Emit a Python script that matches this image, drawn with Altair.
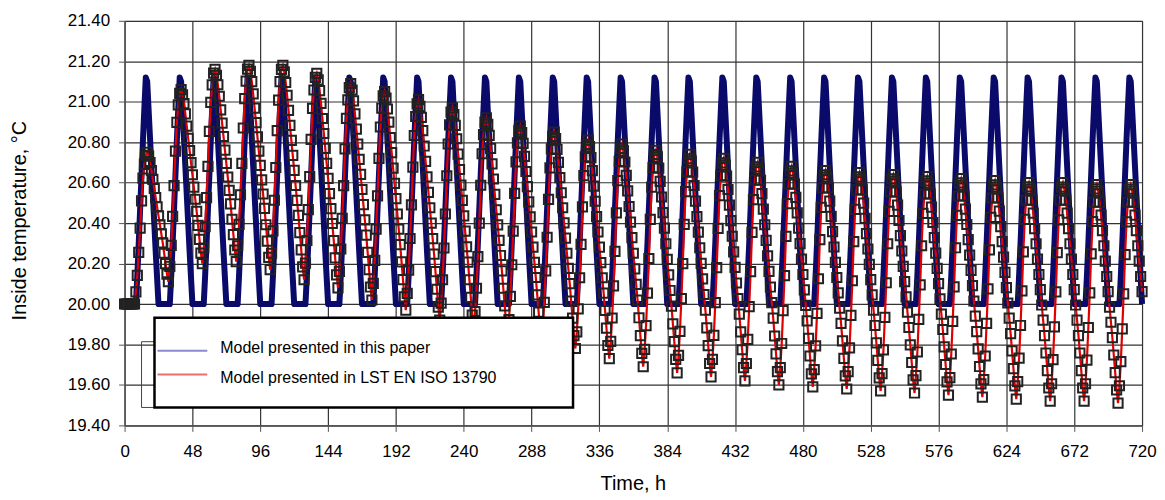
import altair as alt
import pandas as pd

# ---- data ----
x_ticks = [0, 48, 96, 144, 192, 240, 288, 336, 384, 432, 480, 528, 576, 624, 672, 720]
y_ticks = [19.40, 19.60, 19.80, 20.00, 20.20, 20.40, 20.60, 20.80, 21.00, 21.20, 21.40]

# Model presented in this paper: one daily profile (hours 0..23), repeats every day
blue_day = [20.00, 20.00, 20.00, 20.00, 20.00, 20.00, 20.00, 20.00, 20.00,
            20.14, 20.30, 20.47, 20.64, 20.81, 20.97, 21.12, 21.10,
            20.96, 20.82, 20.68, 20.54, 20.40, 20.26, 20.13]
blue_end = 20.00

# LST EN ISO 13790 model: daily peaks (hour 16 of day 1..30)
red_peaks = [20.75, 21.06, 21.16, 21.18, 21.18, 21.14, 21.09, 21.05, 21.01, 20.97,
             20.92, 20.88, 20.85, 20.81, 20.79, 20.76, 20.74, 20.72, 20.70, 20.68,
             20.66, 20.65, 20.64, 20.63, 20.62, 20.61, 20.60, 20.60, 20.59, 20.59]
# daily troughs (hour 7 of day 1..31)
red_troughs = [20.00, 20.11, 20.20, 20.21, 20.17, 20.12, 20.08, 20.02, 19.97, 19.92,
               19.88, 19.84, 19.81, 19.78, 19.73, 19.69, 19.66, 19.64, 19.62, 19.60,
               19.59, 19.58, 19.57, 19.56, 19.55, 19.54, 19.53, 19.52, 19.52, 19.51,
               19.51]
red_rise = [0.0, 0.08, 0.19, 0.34, 0.50, 0.68, 0.83, 0.92, 0.98, 1.0]
red_fall = [1.0, 0.97, 0.92, 0.86, 0.79, 0.72, 0.65, 0.58, 0.51, 0.44, 0.37, 0.30,
            0.22, 0.14, 0.06, 0.0]
red_start = 20.00

# ---- build table ----
rows = []
for t in range(0, 721):
    d, h = divmod(t, 24)
    b = blue_day[h] if t < 720 else blue_end
    if d == 0 and h < 7:
        r = red_start
    elif h < 7:
        p, lo = red_peaks[d - 1], red_troughs[d]
        r = lo + red_fall[h + 8] * (p - lo)
    elif h <= 16:
        lo, p = red_troughs[d], red_peaks[d]
        r = lo + red_rise[h - 7] * (p - lo)
    else:
        p, lo = red_peaks[d], red_troughs[d + 1]
        r = lo + red_fall[h - 16] * (p - lo)
    rows.append({"t": t, "blue": b, "red": round(r, 3)})
df = pd.DataFrame(rows)

FONT = "Liberation Sans"

xaxis = alt.Axis(values=x_ticks, title="Time, h", labelFontSize=17, labelFont=FONT,
                 labelColor="black", tickColor="#555", tickSize=6, domainColor="#555",
                 domainWidth=1.5, gridColor="#333333", gridWidth=1.2, gridOpacity=1,
                 labelPadding=12, titleFont=FONT, titleFontSize=20, titleFontWeight="normal",
                 titleColor="black", titleX=510, titleY=58, titleBaseline="middle",
                 titleAlign="center", labelFlush=False)
yaxis = alt.Axis(values=y_ticks, format=".2f", title="Inside temperature, °C",
                 labelFontSize=17, labelFont=FONT, labelColor="black", tickColor="#555",
                 tickSize=6, domainColor="#555", domainWidth=1.5, gridColor="#333333",
                 gridWidth=1.2, gridOpacity=1, labelPadding=9, titleFont=FONT,
                 titleFontSize=20, titleFontWeight="normal", titleColor="black",
                 titleX=-105, titleY=200, titleAngle=270, titleAlign="center",
                 titleBaseline="middle")

X = alt.X("t:Q", scale=alt.Scale(domain=[0, 720], nice=False, zero=False), axis=xaxis)
ysc = alt.Scale(domain=[19.4, 21.4], nice=False, zero=False)

blue = alt.Chart(df).mark_line(color="#0a0a6a", strokeWidth=6, strokeJoin="round").encode(
    x=X, y=alt.Y("blue:Q", scale=ysc, axis=yaxis))
red = alt.Chart(df).mark_line(color="#e00000", strokeWidth=2.2).encode(
    x=X, y=alt.Y("red:Q", scale=ysc, axis=yaxis))
pts = alt.Chart(df).mark_point(shape="square", filled=False, size=85, color="#222222",
                               strokeWidth=2, opacity=1).encode(
    x=X, y=alt.Y("red:Q", scale=ysc, axis=yaxis))

one = pd.DataFrame({"a": [0]})
bracket = alt.layer(
    alt.Chart(one).mark_rule(color="#444", strokeWidth=1).encode(
        x=alt.value(17), x2=alt.value(30), y=alt.value(322)),
    alt.Chart(one).mark_rule(color="#444", strokeWidth=1).encode(
        x=alt.value(17), y=alt.value(322), y2=alt.value(388)),
    alt.Chart(one).mark_rule(color="#444", strokeWidth=1).encode(
        x=alt.value(17), x2=alt.value(30), y=alt.value(388)),
)
box = alt.Chart(one).mark_rect(fill="white", stroke="black", strokeWidth=2.5).encode(
    x=alt.value(30), x2=alt.value(450), y=alt.value(298), y2=alt.value(388))
sym1 = alt.Chart(one).mark_rule(color="#8a8ad0", strokeWidth=2).encode(
    x=alt.value(33), x2=alt.value(83), y=alt.value(331))
sym2 = alt.Chart(one).mark_rule(color="#e87070", strokeWidth=2).encode(
    x=alt.value(33), x2=alt.value(83), y=alt.value(355))
lab1 = alt.Chart(one).mark_text(text="Model presented in this paper", align="left",
                                baseline="middle", font=FONT, fontSize=16, color="black").encode(
    x=alt.value(96), y=alt.value(328))
lab2 = alt.Chart(one).mark_text(text="Model presented in LST EN ISO 13790", align="left",
                                baseline="middle", font=FONT, fontSize=16, color="black").encode(
    x=alt.value(96), y=alt.value(358))

chart = alt.layer(blue, red, pts, bracket, box, sym1, sym2, lab1, lab2).properties(
    width=1021, height=406,
    padding={"left": 117, "top": 12, "right": 15, "bottom": 72},
    autosize=alt.AutoSizeParams(type="none"),
).configure_view(strokeWidth=0).configure(background="white")

chart.save("out.html", embed_options={"renderer": "svg", "actions": False})
